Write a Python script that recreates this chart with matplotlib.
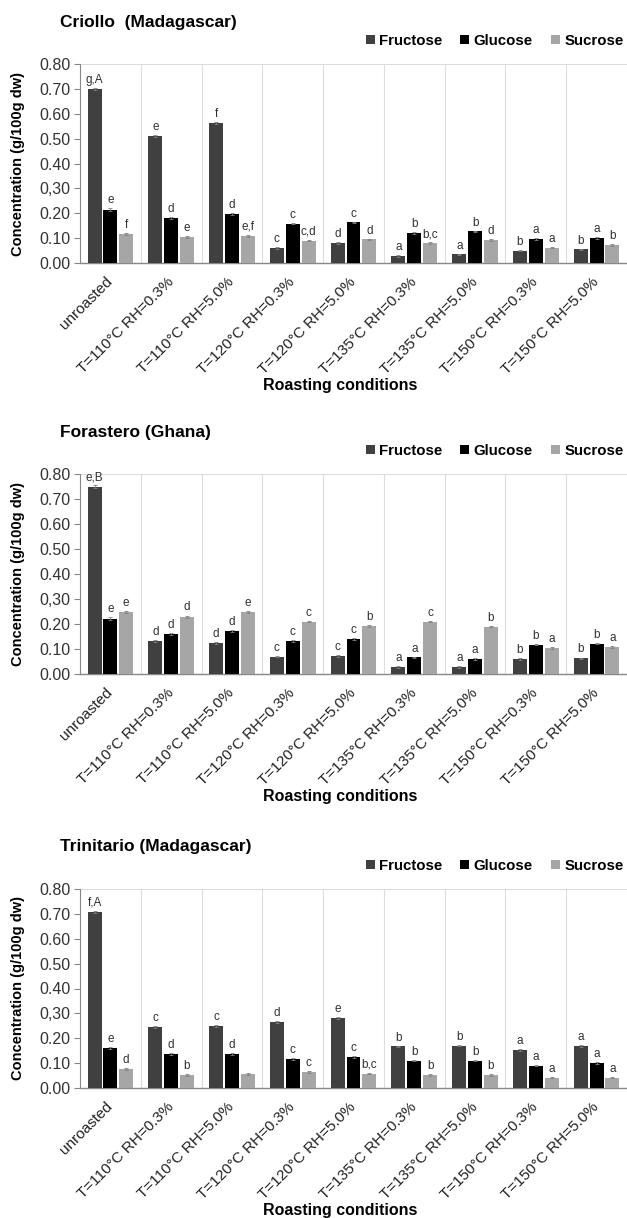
import numpy as np
import matplotlib
matplotlib.use("Agg")
import matplotlib.pyplot as plt
import matplotlib.transforms as mtransforms

plt.rcParams['font.family'] = ['Liberation Sans', 'DejaVu Sans']

conditions = ['unroasted', 'T=110°C RH=0.3%', 'T=110°C RH=5.0%', 'T=120°C RH=0.3%',
              'T=120°C RH=5.0%', 'T=135°C RH=0.3%', 'T=135°C RH=5.0%',
              'T=150°C RH=0.3%', 'T=150°C RH=5.0%']
sugars = ['Fructose', 'Glucose', 'Sucrose']
ytick_labels = ['0.00', '0.10', '0.20', '0,30', '0.40', '0.50', '0.60', '0.70', '0.80']

# Criollo (Madagascar)
criollo_fru = [0.700, 0.510, 0.563, 0.060, 0.080, 0.028, 0.035, 0.050, 0.055]
criollo_glu = [0.215, 0.180, 0.198, 0.158, 0.163, 0.120, 0.127, 0.097, 0.100]
criollo_suc = [0.117, 0.103, 0.110, 0.090, 0.095, 0.080, 0.092, 0.062, 0.073]
criollo_fru_lab = ['g,A', 'e', 'f', 'c', 'd', 'a', 'a', 'b', 'b']
criollo_glu_lab = ['e', 'd', 'd', 'c', 'c', 'b', 'b', 'a', 'a']
criollo_suc_lab = ['f', 'e', 'e,f', 'c,d', 'd', 'b,c', 'd', 'a', 'b']

# Forastero (Ghana)
forastero_fru = [0.750, 0.133, 0.125, 0.070, 0.073, 0.028, 0.028, 0.060, 0.063]
forastero_glu = [0.222, 0.160, 0.172, 0.132, 0.140, 0.067, 0.060, 0.118, 0.122]
forastero_suc = [0.248, 0.230, 0.248, 0.210, 0.193, 0.210, 0.190, 0.104, 0.108]
forastero_fru_lab = ['e,B', 'd', 'd', 'c', 'c', 'a', 'a', 'b', 'b']
forastero_glu_lab = ['e', 'd', 'd', 'c', 'c', 'a', 'a', 'b', 'b']
forastero_suc_lab = ['e', 'd', 'e', 'c', 'b', 'c', 'b', 'a', 'a']

# Trinitario (Madagascar)
trinitario_fru = [0.708, 0.247, 0.250, 0.265, 0.282, 0.167, 0.170, 0.152, 0.168]
trinitario_glu = [0.160, 0.138, 0.138, 0.117, 0.124, 0.110, 0.110, 0.090, 0.100]
trinitario_suc = [0.077, 0.052, 0.056, 0.064, 0.058, 0.052, 0.052, 0.042, 0.042]
trinitario_fru_lab = ['f,A', 'c', 'c', 'd', 'e', 'b', 'b', 'a', 'a']
trinitario_glu_lab = ['e', 'd', 'd', 'c', 'c', 'b', 'b', 'a', 'a']
trinitario_suc_lab = ['d', 'b', '', 'c', 'b,c', 'b', 'b', 'a', 'a']

# small standard deviations
err = [0.005, 0.004, 0.004, 0.003, 0.003, 0.003, 0.003, 0.003, 0.003]

colors = ['#404040', '#000000', '#a6a6a6']

# title, series, letters, axes top px, axes bottom px
panels = [
    ('Criollo  (Madagascar)', [criollo_fru, criollo_glu, criollo_suc],
     [criollo_fru_lab, criollo_glu_lab, criollo_suc_lab], 64, 263),
    ('Forastero (Ghana)', [forastero_fru, forastero_glu, forastero_suc],
     [forastero_fru_lab, forastero_glu_lab, forastero_suc_lab], 474, 674),
    ('Trinitario (Madagascar)', [trinitario_fru, trinitario_glu, trinitario_suc],
     [trinitario_fru_lab, trinitario_glu_lab, trinitario_suc_lab], 889, 1088),
]

W, H = 627, 1218
fig = plt.figure(figsize=(W / 100, H / 100), dpi=100)

x = np.arange(len(conditions))
bw = 0.23
offsets = [-0.26, 0.0, 0.26]
shift = mtransforms.ScaledTranslation(6 / 100, 2 / 100, fig.dpi_scale_trans)

for title, series, labels, top, bottom in panels:
    ax = fig.add_axes([80 / W, 1 - bottom / H, 547 / W, (bottom - top) / H])
    for i in range(3):
        ax.bar(x + offsets[i], series[i], bw, color=colors[i], label=sugars[i],
               yerr=err, error_kw=dict(ecolor='#808080', elinewidth=0.6, capsize=1.5, capthick=0.6),
               zorder=3)
        for xi, v, e, lab in zip(x, series[i], err, labels[i]):
            ax.text(xi + offsets[i], v + e + 0.008, lab, ha='center', va='bottom',
                    fontsize=8.5, color='#303030')
    ax.set_xlim(-0.5, len(conditions) - 0.5)
    ax.set_ylim(0, 0.8)
    ax.set_yticks(np.arange(0, 0.81, 0.1))
    ax.set_yticklabels(ytick_labels, fontsize=11.5, color='#333333')
    ax.set_xticks(x)
    ax.set_xticklabels(conditions, rotation=45, ha='right', va='center',
                       rotation_mode='anchor', fontsize=11, color='#222222')
    for t in ax.get_xticklabels():
        t.set_transform(t.get_transform() + shift)
    ax.tick_params(axis='x', length=0, pad=12)
    ax.tick_params(axis='y', length=4, color='#888888', pad=3)
    for b in np.arange(0.5, len(conditions) - 0.5, 1.0):
        ax.axvline(b, color='#dddddd', lw=0.8, zorder=0)
    ax.axhline(0.8, color='#dddddd', lw=0.8, zorder=0)
    ax.spines['top'].set_visible(False)
    ax.spines['right'].set_visible(False)
    ax.spines['left'].set_color('#888888')
    ax.spines['bottom'].set_color('#888888')
    ax.spines['bottom'].set_linewidth(1.0)

    fig.text(60 / W, 1 - (top - 42) / H, title, fontsize=12.5, fontweight='bold',
             ha='left', va='center')
    fig.text(18 / W, 1 - (top + bottom) / 2 / H, 'Concentration (g/100g dw)',
             rotation=90, fontsize=10.5, fontweight='bold', ha='center', va='center')
    fig.text(340 / W, 1 - (bottom + 123) / H, 'Roasting conditions', fontsize=11.5,
             fontweight='bold', ha='center', va='center')
    ax.legend(loc='center right', bbox_to_anchor=(1.005, 1 + 23 / (bottom - top)),
              ncol=3, frameon=False, handlelength=0.6, handleheight=0.6,
              handletextpad=0.3, columnspacing=1.2, borderaxespad=0,
              prop=dict(size=10.8, weight='bold'))

fig.savefig('out.png', dpi=100)
